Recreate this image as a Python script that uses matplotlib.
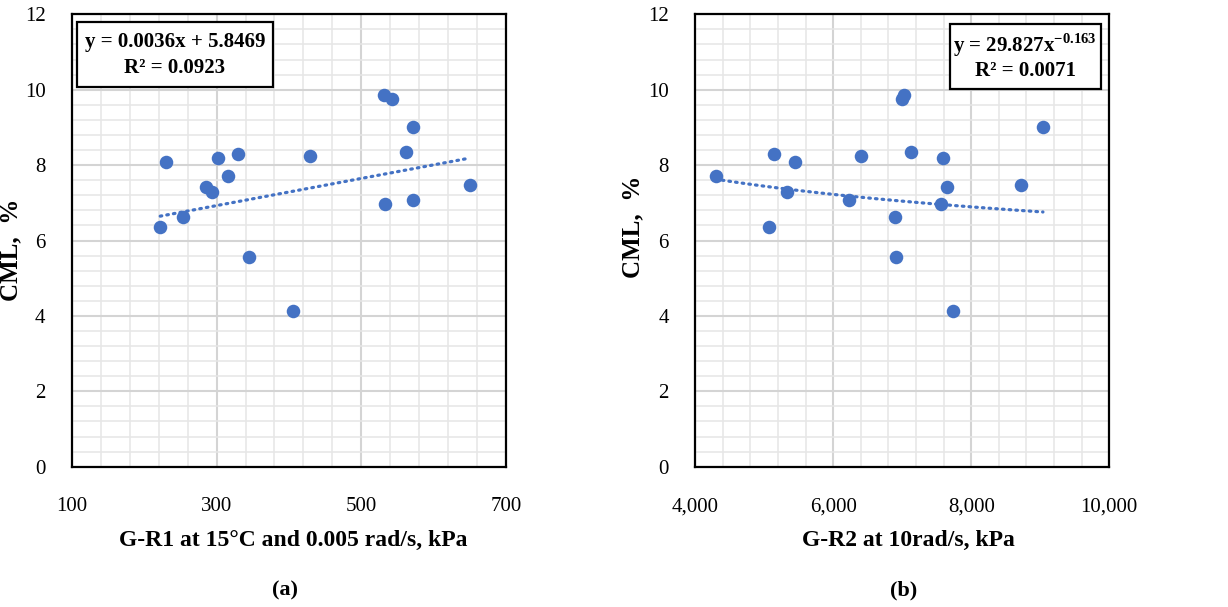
import numpy as np
import matplotlib
matplotlib.use('Agg')
import matplotlib.pyplot as plt
from matplotlib.patches import Rectangle
from matplotlib.ticker import FuncFormatter

# Data (same 18 samples)
cml = [8.07, 6.35, 6.62, 7.42, 7.30, 8.18, 7.71, 8.29, 5.57,
       8.25, 9.85, 9.75, 9.00, 8.36, 6.97, 7.08, 7.48, 4.12]
g_r1 = [230, 222, 254, 285, 293, 302, 316, 329, 345,
        429, 531, 543, 571, 562, 533, 571, 650, 406]
g_r2 = [5445, 5064, 6899, 7652, 5333, 7585, 4295, 5140, 6913,
        6401, 7025, 6996, 9039, 7126, 7556, 6223, 8720, 7730]

# trendline coefficients shown in the boxes
lin_a, lin_b = 0.0036, 5.8469
pow_a, pow_b = 29.827, -0.163

plt.rcParams['font.family'] = 'Liberation Serif'
plt.rcParams['mathtext.fontset'] = 'custom'
plt.rcParams['mathtext.rm'] = 'Liberation Serif'
plt.rcParams['mathtext.bf'] = 'Liberation Serif:bold'

blue = '#4472C4'
fig = plt.figure(figsize=(12.28, 6.07), dpi=100)
ax1 = fig.add_axes([0.0586, 0.2311, 0.3534, 0.7453])
ax2 = fig.add_axes([0.5662, 0.2311, 0.3371, 0.7453])


def style(ax, xmin, xmax, xmaj, xminor):
    ax.set_xlim(xmin, xmax)
    ax.set_ylim(0, 12)
    ax.set_xticks(np.arange(xmin, xmax + 1, xmaj))
    ax.set_xticks(np.arange(xmin, xmax + 1, xminor), minor=True)
    ax.set_yticks(np.arange(0, 13, 2))
    ax.set_yticks(np.arange(0, 12.01, 0.4), minor=True)
    ax.grid(which='major', color='#d4d4d4', lw=1.5, zorder=0)
    ax.grid(which='minor', color='#e6e6e6', lw=1.1, zorder=0)
    ax.set_axisbelow(True)
    ax.tick_params(which='both', length=0, labelsize=15)
    ax.tick_params(axis='x', pad=22)
    ax.tick_params(axis='y', pad=19)
    for s in ax.spines.values():
        s.set_linewidth(1.6)
        s.set_color('black')


def eq_box(ax, x0, x1, y0, y1, xc, lines, ys):
    ax.add_patch(Rectangle((x0, y0), x1 - x0, y1 - y0, transform=ax.transAxes,
                           fc='white', ec='black', lw=1.6, zorder=5))
    for t, y in zip(lines, ys):
        ax.text(xc, y, t, transform=ax.transAxes, ha='center', va='center',
                fontsize=15, fontweight='bold', zorder=6)


# (a) linear trend
style(ax1, 100, 700, 200, 40)
ax1.scatter(g_r1, cml, s=95, color=blue, zorder=3, linewidths=0)
xl = np.linspace(min(g_r1), max(g_r1), 50)
ax1.plot(xl, lin_a * xl + lin_b, color=blue, lw=2.3, ls=(0, (0.5, 1.6)),
         dash_capstyle='round', zorder=2)
eq_box(ax1, 0.0108, 0.4638, 0.840, 0.9836, 0.2373,
       ['y = 0.0036x + 5.8469', 'R² = 0.0923'], [0.9394, 0.8806])
ax1.set_xlabel('G-R1 at 15°C and 0.005 rad/s, kPa', fontsize=17, fontweight='bold')
ax1.xaxis.set_label_coords(0.509, -0.14)
ax1.set_ylabel('CML,  %', fontsize=18, fontweight='bold')
ax1.yaxis.set_label_coords(-0.115, 0.479)

# (b) power trend
style(ax2, 4000, 10000, 2000, 400)
ax2.xaxis.set_major_formatter(FuncFormatter(lambda v, p: f'{v:,.0f}'))
ax2.scatter(g_r2, cml, s=95, color=blue, zorder=3, linewidths=0)
xp = np.linspace(min(g_r2), max(g_r2), 50)
ax2.plot(xp, pow_a * xp ** pow_b, color=blue, lw=2.3, ls=(0, (0.5, 1.6)),
         dash_capstyle='round', zorder=2)
eq_box(ax2, 0.6152, 0.9792, 0.8342, 0.9786, 0.797,
       [r'y = 29.827x$^{\mathbf{-0.163}}$', 'R² = 0.0071'], [0.932, 0.875])
ax2.set_xlabel('G-R2 at 10rad/s, kPa', fontsize=17, fontweight='bold')
ax2.xaxis.set_label_coords(0.516, -0.14)
ax2.set_ylabel('CML,  %', fontsize=18, fontweight='bold')
ax2.yaxis.set_label_coords(-0.123, 0.53)

fig.text(285 / 1228, 1 - 590 / 607, '(a)', ha='center', va='center',
         fontsize=16, fontweight='bold')
fig.text(904 / 1228, 1 - 590 / 607, '(b)', ha='center', va='center',
         fontsize=16, fontweight='bold')

fig.savefig('out.png', dpi=100)
